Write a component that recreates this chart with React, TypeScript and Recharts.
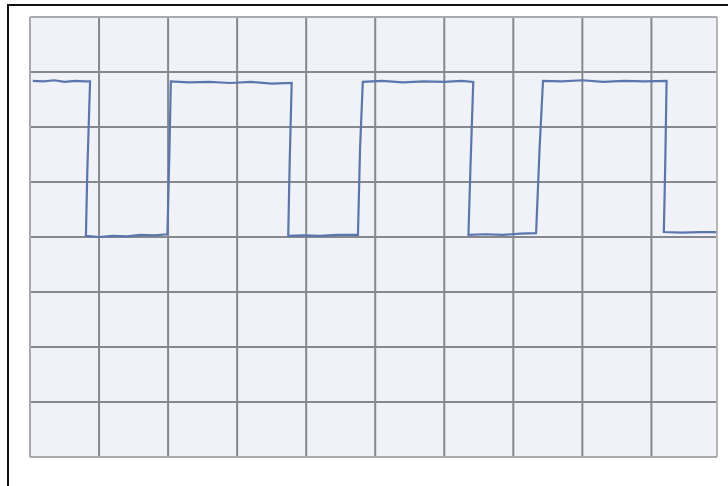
import React from "react";
import { LineChart, Line, XAxis, YAxis, CartesianGrid, ReferenceLine } from "recharts";

// time in grid divisions (horizontal), voltage in grid divisions (vertical)
const times: number[] = [
  0.04, 0.2, 0.35, 0.5, 0.65, 0.8, 0.87,
  0.83, 0.81, 1.0, 1.2, 1.4, 1.6, 1.8, 1.99,
  2.02, 2.04, 2.3, 2.6, 2.9, 3.2, 3.5, 3.79,
  3.76, 3.74, 3.95, 4.2, 4.45, 4.75,
  4.78, 4.82, 5.1, 5.4, 5.7, 6.0, 6.25, 6.42,
  6.38, 6.35, 6.6, 6.85, 7.1, 7.33,
  7.38, 7.43, 7.7, 8.0, 8.3, 8.6, 8.9, 9.22,
  9.2, 9.18, 9.45, 9.7, 9.94,
];
const volts: number[] = [
  6.84, 6.83, 6.85, 6.82, 6.84, 6.83, 6.83,
  5.2, 4.02, 4.0, 4.02, 4.01, 4.04, 4.03, 4.05,
  5.6, 6.83, 6.81, 6.82, 6.8, 6.82, 6.79, 6.8,
  5.3, 4.02, 4.03, 4.02, 4.04, 4.04,
  5.6, 6.82, 6.84, 6.81, 6.83, 6.82, 6.84, 6.82,
  5.3, 4.04, 4.05, 4.04, 4.06, 4.07,
  5.6, 6.84, 6.83, 6.85, 6.82, 6.84, 6.83, 6.84,
  5.3, 4.09, 4.08, 4.09, 4.09,
];
const xTicks: number[] = [0, 1, 2, 3, 4, 5, 6, 7, 8, 9];
const yTicks: number[] = [0, 1, 2, 3, 4, 5, 6, 7, 8];

const data = times.map((t, i) => ({ t, v: volts[i] }));

export default function App() {
  return (
    <div
      style={{
        position: "absolute",
        left: 0,
        top: 0,
        width: 728,
        height: 486,
        background: "#ffffff",
        overflow: "hidden",
      }}
    >
      <div
        style={{
          position: "absolute",
          left: 7,
          top: 4,
          width: 760,
          height: 520,
          borderTop: "2px solid #111",
          borderLeft: "2px solid #111",
        }}
      />
      <div style={{ position: "absolute", left: 0, top: 0 }}>
        <LineChart
          width={728}
          height={486}
          data={data}
          margin={{ top: 17, left: 30, right: 11, bottom: 29 }}
        >
          <CartesianGrid
            fill="#f0f2f7"
            stroke="#86888d"
            strokeWidth={2}
            strokeDasharray=""
          />
          <XAxis
            type="number"
            dataKey="t"
            domain={[0, 9.95]}
            ticks={xTicks}
            hide
            allowDataOverflow
          />
          <YAxis type="number" domain={[0, 8]} ticks={yTicks} hide allowDataOverflow />
          <ReferenceLine x={9.95} stroke="#b4b6ba" strokeWidth={2} />
          <ReferenceLine x={0} stroke="#a8aaae" strokeWidth={2} />
          <ReferenceLine y={8} stroke="#a8aaae" strokeWidth={2} />
          <ReferenceLine y={0} stroke="#a8aaae" strokeWidth={2} />
          <Line
            type="linear"
            dataKey="v"
            stroke="#5a76ad"
            strokeWidth={2.2}
            dot={false}
            isAnimationActive={false}
          />
        </LineChart>
      </div>
    </div>
  );
}
